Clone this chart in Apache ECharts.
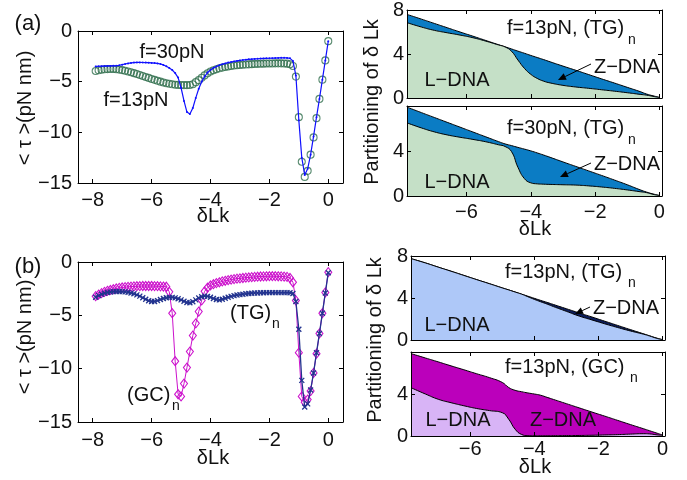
<!DOCTYPE html>
<html><head><meta charset="utf-8">
<script src="https://cdn.jsdelivr.net/npm/echarts@6/dist/echarts.min.js"></script>
<style>html,body{margin:0;padding:0;background:#fff}#c{width:687px;height:480px}</style>
</head><body><div id="c"></div>
<script>
// ---------- DATA ----------
// left panels: delta Lk grid
const dLk = [-7.9,-7.8,-7.7,-7.6,-7.5,-7.4,-7.3,-7.2,-7.1,-7.0,
 -6.9,-6.8,-6.7,-6.6,-6.5,-6.4,-6.3,-6.2,-6.1,-6.0,
 -5.9,-5.8,-5.7,-5.6,-5.5,-5.4,-5.3,-5.2,-5.1,-5.0,
 -4.9,-4.8,-4.7,-4.6,-4.5,-4.4,-4.3,-4.2,-4.1,-4.0,
 -3.9,-3.8,-3.7,-3.6,-3.5,-3.4,-3.3,-3.2,-3.1,-3.0,
 -2.9,-2.8,-2.7,-2.6,-2.5,-2.4,-2.3,-2.2,-2.1,-2.0,
 -1.9,-1.8,-1.7,-1.6,-1.5,-1.4,-1.3,-1.2,-1.1,-1.0,
 -0.9,-0.8,-0.7,-0.6,-0.5,-0.4,-0.3,-0.2,-0.1,0];
// (a) torque, f=13pN
const tau13 = [-3.95,-3.88,-3.82,-3.78,-3.76,-3.75,-3.75,-3.77,-3.81,-3.86,
 -3.92,-3.99,-4.07,-4.16,-4.25,-4.34,-4.44,-4.54,-4.63,-4.73,
 -4.82,-4.91,-5.0,-5.08,-5.15,-5.21,-5.26,-5.3,-5.32,-5.33,
 -5.34,-5.34,-5.33,-5.25,-5.05,-4.85,-4.62,-4.38,-4.17,-4.0,
 -3.87,-3.77,-3.68,-3.61,-3.55,-3.5,-3.45,-3.41,-3.38,-3.35,
 -3.33,-3.31,-3.29,-3.27,-3.25,-3.24,-3.23,-3.22,-3.21,-3.2,
 -3.2,-3.19,-3.19,-3.19,-3.2,-3.22,-3.28,-3.45,-4.5,-8.5,
 -12.9,-14.4,-13.8,-12.2,-10.5,-8.6,-6.7,-4.8,-2.9,-1.0];
// (a) torque, f=30pN
const tau30 = [-3.5,-3.48,-3.47,-3.46,-3.45,-3.45,-3.44,-3.42,-3.38,-3.32,
 -3.26,-3.2,-3.15,-3.12,-3.1,-3.1,-3.11,-3.12,-3.13,-3.15,
 -3.17,-3.2,-3.26,-3.35,-3.48,-3.65,-3.85,-4.15,-4.6,-5.6,
 -6.9,-8.0,-8.2,-7.6,-6.6,-5.7,-5.0,-4.5,-4.1,-3.85,
 -3.65,-3.5,-3.38,-3.28,-3.2,-3.12,-3.06,-3.0,-2.95,-2.9,
 -2.86,-2.83,-2.8,-2.78,-2.76,-2.74,-2.72,-2.71,-2.7,-2.69,
 -2.68,-2.67,-2.66,-2.65,-2.65,-2.66,-2.7,-2.95,-4.4,-8.8,
 -12.5,-14.2,-13.6,-12.2,-10.4,-8.5,-6.7,-4.8,-2.9,-1.0];
// (b) torque, (GC)n
const tauGC = [-3.2,-3.05,-2.92,-2.8,-2.7,-2.62,-2.55,-2.48,-2.43,-2.39,
 -2.36,-2.33,-2.31,-2.29,-2.27,-2.26,-2.25,-2.25,-2.25,-2.25,
 -2.26,-2.27,-2.28,-2.3,-2.32,-2.8,-4.8,-9.3,-12.4,-12.6,
 -11.4,-9.9,-8.4,-6.9,-5.75,-4.65,-3.6,-2.75,-2.4,-2.2,
 -2.08,-1.98,-1.9,-1.82,-1.76,-1.7,-1.65,-1.6,-1.56,-1.53,
 -1.5,-1.47,-1.45,-1.42,-1.4,-1.38,-1.36,-1.35,-1.34,-1.33,
 -1.33,-1.33,-1.34,-1.35,-1.37,-1.4,-1.5,-1.9,-3.6,-8.5,
 -12.6,-13.15,-12.9,-12.1,-10.4,-8.6,-6.7,-4.8,-2.85,-0.95];
// (b) torque, (TG)n
const tauTG = [-3.3,-3.15,-3.03,-2.93,-2.86,-2.81,-2.78,-2.77,-2.77,-2.78,
 -2.8,-2.84,-2.9,-2.98,-3.08,-3.2,-3.35,-3.5,-3.63,-3.7,
 -3.7,-3.62,-3.52,-3.42,-3.35,-3.32,-3.32,-3.36,-3.44,-3.55,
 -3.68,-3.8,-3.82,-3.72,-3.55,-3.38,-3.25,-3.2,-3.22,-3.3,
 -3.42,-3.52,-3.55,-3.5,-3.4,-3.3,-3.22,-3.15,-3.1,-3.06,
 -3.02,-2.98,-2.95,-2.93,-2.91,-2.9,-2.89,-2.88,-2.87,-2.87,
 -2.87,-2.87,-2.87,-2.87,-2.87,-2.87,-2.88,-2.95,-3.7,-6.3,
 -11.1,-13.6,-13.3,-12.0,-10.4,-8.5,-6.7,-4.8,-2.9,-1.0];

// right panels: partitioning grid
const pLk = [-7.85,-7.4,-7.0,-6.6,-6.2,-5.8,-5.4,-5.0,-4.8,-4.6,-4.4,-4.2,-4.0,-3.8,-3.6,-3.4,-3.0,-2.6,-2.2,-1.8,-1.4,-1.0,-0.6,-0.4,-0.2,0];
// f=13pN (TG)n : total (L+Z) and L-DNA
const tot13TG = [7.6,7.17,6.78,6.39,6.0,5.62,5.23,4.84,4.65,4.46,4.26,4.07,3.87,3.68,3.49,3.29,2.9,2.52,2.13,1.74,1.36,0.97,0.58,0.36,0.2,0.06];
const L13TG   = [6.85,6.45,6.15,5.93,5.72,5.48,5.17,4.82,4.64,4.25,3.45,2.7,2.15,1.78,1.53,1.37,1.15,1.0,0.88,0.75,0.62,0.48,0.33,0.26,0.15,0.04];
// f=30pN (TG)n
const tot30TG = [7.9,7.41,6.98,6.55,6.12,5.69,5.26,4.83,4.63,4.48,4.32,4.17,4.01,3.83,3.64,3.44,3.03,2.63,2.23,1.83,1.42,1.0,0.55,0.35,0.18,0.06];
const L30TG   = [6.5,6.05,5.7,5.43,5.22,5.03,4.82,4.55,4.4,3.95,2.55,1.55,1.17,1.08,1.05,1.03,1.0,0.97,0.9,0.8,0.68,0.54,0.38,0.3,0.15,0.03];
// (b) f=13pN (TG)n
const totB_TG = [7.75,7.34,6.94,6.55,6.15,5.75,5.36,4.96,4.77,4.57,4.37,4.17,3.97,3.77,3.58,3.38,2.98,2.58,2.19,1.79,1.39,0.99,0.6,0.4,0.2,0.04];
const LB_TG   = [7.75,7.34,6.94,6.55,6.15,5.75,5.36,4.96,4.77,4.57,4.37,4.12,3.87,3.64,3.42,3.18,2.73,2.28,1.91,1.54,1.19,0.86,0.56,0.38,0.18,0.03];
// (b) f=13pN (GC)n
const totB_GC = [7.85,7.43,7.06,6.68,6.31,5.93,5.56,5.1,4.62,4.35,4.22,4.1,4.0,3.88,3.68,3.48,3.08,2.68,2.28,1.89,1.49,1.09,0.7,0.5,0.3,0.1];
const LB_GC   = [4.6,4.0,3.5,3.17,2.88,2.62,2.42,2.22,1.6,0.65,0.15,0.03,0.02,0.02,0.02,0.03,0.04,0.05,0.07,0.1,0.13,0.18,0.22,0.2,0.12,0.05];

// ticks
const leftXTicks = [-8,-6,-4,-2,0];
const leftYTicks = [-15,-10,-5,0];
const rightXTicks = [-6,-4,-2,0];
const rightYTicksTop = [0,4,8];
const rightYTicksBot = [0,4];

// ---------- CHART ----------
const FONT = '"Liberation Sans", Arial, Helvetica, sans-serif';
const TXT = '#111';
const minus = v => (v < 0 ? '\u2212' + Math.abs(v) : String(v));
const pair = (xs, ys) => xs.map((x, k) => [x, ys[k]]);

const grids = [
  {left:78, top:31, width:265, height:152},
  {left:78, top:262, width:265, height:160},
  {left:407, top:7, width:255, height:91},
  {left:407, top:106, width:255, height:90},
  {left:411, top:256, width:254, height:84},
  {left:411, top:352, width:254, height:84}
].map(g => Object.assign({show:false, containLabel:false}, g));

const xAxes = [], yAxes = [];
function addAxes(gi, xr, yr, xt, xl, yt, yl, xMargin, yMargin) {
  const line = {show:true, onZero:false, lineStyle:{color:'#000', width:1}};
  const tick = vals => ({show:true, inside:true, length:4, customValues:vals, lineStyle:{color:'#000', width:1}});
  const lab = (vals, m) => vals && vals.length ? {show:true, customValues:vals, formatter:minus, fontSize:20, fontFamily:FONT, color:TXT, margin:m} : {show:false};
  xAxes.push({type:'value', gridIndex:gi, min:xr[0], max:xr[1], position:'bottom', z:10,
    axisLine:line, axisTick:tick(xt), axisLabel:lab(xl, xMargin), splitLine:{show:false}});
  xAxes.push({type:'value', gridIndex:gi, min:xr[0], max:xr[1], position:'top', z:10,
    axisLine:line, axisTick:tick(xt), axisLabel:{show:false}, splitLine:{show:false}});
  yAxes.push({type:'value', gridIndex:gi, min:yr[0], max:yr[1], position:'left', z:10,
    axisLine:line, axisTick:tick(yt), axisLabel:lab(yl, yMargin), splitLine:{show:false}});
  yAxes.push({type:'value', gridIndex:gi, min:yr[0], max:yr[1], position:'right', z:10,
    axisLine:line, axisTick:tick(yt), axisLabel:{show:false}, splitLine:{show:false}});
}
const LX = [-8.5, 0.5], LY = [-15, 0], RX = [-7.85, 0.08], RY = [0, 8];
addAxes(0, LX, LY, leftXTicks, leftXTicks, leftYTicks, leftYTicks, 7, 6);
addAxes(1, LX, LY, leftXTicks, leftXTicks, leftYTicks, leftYTicks, 8, 6);
addAxes(2, RX, RY, rightXTicks, null, rightYTicksTop, rightYTicksTop, 6, 3);
addAxes(3, RX, RY, rightXTicks, rightXTicks, rightYTicksTop, rightYTicksBot, 6, 3);
addAxes(4, RX, RY, rightXTicks, null, rightYTicksTop, rightYTicksTop, 4, 3);
addAxes(5, RX, RY, rightXTicks, rightXTicks, rightYTicksTop, rightYTicksBot, 3, 3);

const series = [];
const ax = gi => ({xAxisIndex: 2*gi, yAxisIndex: 2*gi});
// (a) left
series.push(Object.assign({type:'scatter', data:pair(dLk, tau13), symbol:'circle', symbolSize:7,
  itemStyle:{color:'rgba(0,0,0,0)', borderColor:'#2f6e4c', borderWidth:1.1}, silent:true, z:2}, ax(0)));
series.push(Object.assign({type:'line', data:pair(dLk, tau30), symbol:'circle', symbolSize:2, showSymbol:true,
  lineStyle:{color:'#1010ff', width:1.2}, itemStyle:{color:'#1010ff'}, silent:true, z:3}, ax(0)));
// (b) left
series.push(Object.assign({type:'line', data:pair(dLk, tauGC), symbol:'diamond', symbolSize:[7,9], showSymbol:true,
  lineStyle:{color:'#cc11cc', width:1}, itemStyle:{color:'rgba(0,0,0,0)', borderColor:'#cc11cc', borderWidth:1.1}, silent:true, z:2}, ax(1)));
series.push(Object.assign({type:'line', data:pair(dLk, tauTG), symbol:'path://M0,0L10,10M10,0L0,10', symbolSize:5, showSymbol:true,
  lineStyle:{color:'#22338f', width:1.3}, itemStyle:{color:'rgba(0,0,0,0)', borderColor:'#22338f', borderWidth:1.3}, silent:true, z:3}, ax(1)));

function areaPair(gi, tot, L, zCol, lCol) {
  series.push(Object.assign({type:'line', data:pair(pLk, tot), symbol:'none', smooth:0.5,
    lineStyle:{color:'#000', width:1}, areaStyle:{color:zCol, opacity:1}, silent:true, z:2}, ax(gi)));
  series.push(Object.assign({type:'line', data:pair(pLk, L), symbol:'none', smooth:0.5,
    lineStyle:{color:'#000', width:1}, areaStyle:{color:lCol, opacity:1}, silent:true, z:3}, ax(gi)));
}
areaPair(2, tot13TG, L13TG, '#0b7cc4', '#c5e0c7');
areaPair(3, tot30TG, L30TG, '#0b7cc4', '#c5e0c7');
areaPair(4, totB_TG, LB_TG, '#0c1d5c', '#aec8f8');
areaPair(5, totB_GC, LB_GC, '#bb00bb', '#d8b4f6');

// ---------- TEXT ----------
const g = [];
function txt(text, x, y, size, align, rot) {
  g.push({type:'text', x:x, y:y, rotation:rot || 0, z:100, silent:true,
    style:{text:text, font:size + 'px ' + FONT, fill:TXT, align:align || 'center', verticalAlign:'middle'}});
}
function arrow(x1, y1, x2, y2) {
  const dx = x2 - x1, dy = y2 - y1, L = Math.hypot(dx, dy), ux = dx / L, uy = dy / L;
  const hl = 8, hw = 3.5;
  const bx = x2 - ux * hl, by = y2 - uy * hl;
  g.push({type:'line', z:100, silent:true, shape:{x1:x1, y1:y1, x2:bx, y2:by}, style:{stroke:'#000', lineWidth:1}});
  g.push({type:'polygon', z:100, silent:true, shape:{points:[[x2, y2], [bx - uy * hw, by + ux * hw], [bx + uy * hw, by - ux * hw]]}, style:{fill:'#000'}});
}
txt('(a)', 28, 24, 22);
txt('(b)', 28, 267, 22);
txt('< \u03c4 >(pN nm)', 25, 108, 20, 'center', Math.PI / 2);
txt('< \u03c4 >(pN nm)', 25, 337, 20, 'center', Math.PI / 2);
txt('Partitioning of \u03b4 Lk', 372, 102, 20, 'center', Math.PI / 2);
txt('Partitioning of \u03b4 Lk', 375, 340, 20, 'center', Math.PI / 2);
txt('\u03b4Lk', 213, 216, 20);
txt('\u03b4Lk', 213, 458, 20);
txt('\u03b4Lk', 535, 229, 20);
txt('\u03b4Lk', 535, 467, 20);
txt('f=30pN', 172, 52, 20);
txt('f=13pN', 136, 100, 20);
txt('(TG)', 230, 313, 20, 'left');
txt('n', 272, 324, 14, 'left');
txt('(GC)', 127, 395, 20, 'left');
txt('n', 172, 406, 14, 'left');
txt('f=13pN, (TG)', 507, 28, 20, 'left');
txt('n', 628, 40, 14, 'left');
txt('f=30pN, (TG)', 507, 128, 20, 'left');
txt('n', 628, 140, 14, 'left');
txt('f=13pN, (TG)', 505, 272, 20, 'left');
txt('n', 628, 283, 14, 'left');
txt('f=13pN, (GC)', 505, 367, 20, 'left');
txt('n', 630, 378, 14, 'left');
txt('L\u2212DNA', 457, 80, 20);
txt('L\u2212DNA', 457, 182, 20);
txt('L\u2212DNA', 457, 325, 20);
txt('L\u2212DNA', 458, 420, 20);
txt('Z\u2212DNA', 627, 67, 20);
txt('Z\u2212DNA', 627, 164, 20);
txt('Z\u2212DNA', 626, 308, 20);
txt('Z\u2212DNA', 563, 420, 20);
arrow(591, 64, 558, 80);
arrow(591, 163, 560, 177);
arrow(590, 307, 575, 314);

const chart = echarts.init(document.getElementById('c'), null, {renderer:'canvas'});
chart.setOption({
  animation:false,
  backgroundColor:'#fff',
  grid:grids, xAxis:xAxes, yAxis:yAxes, series:series, graphic:g
});
</script></body></html>
